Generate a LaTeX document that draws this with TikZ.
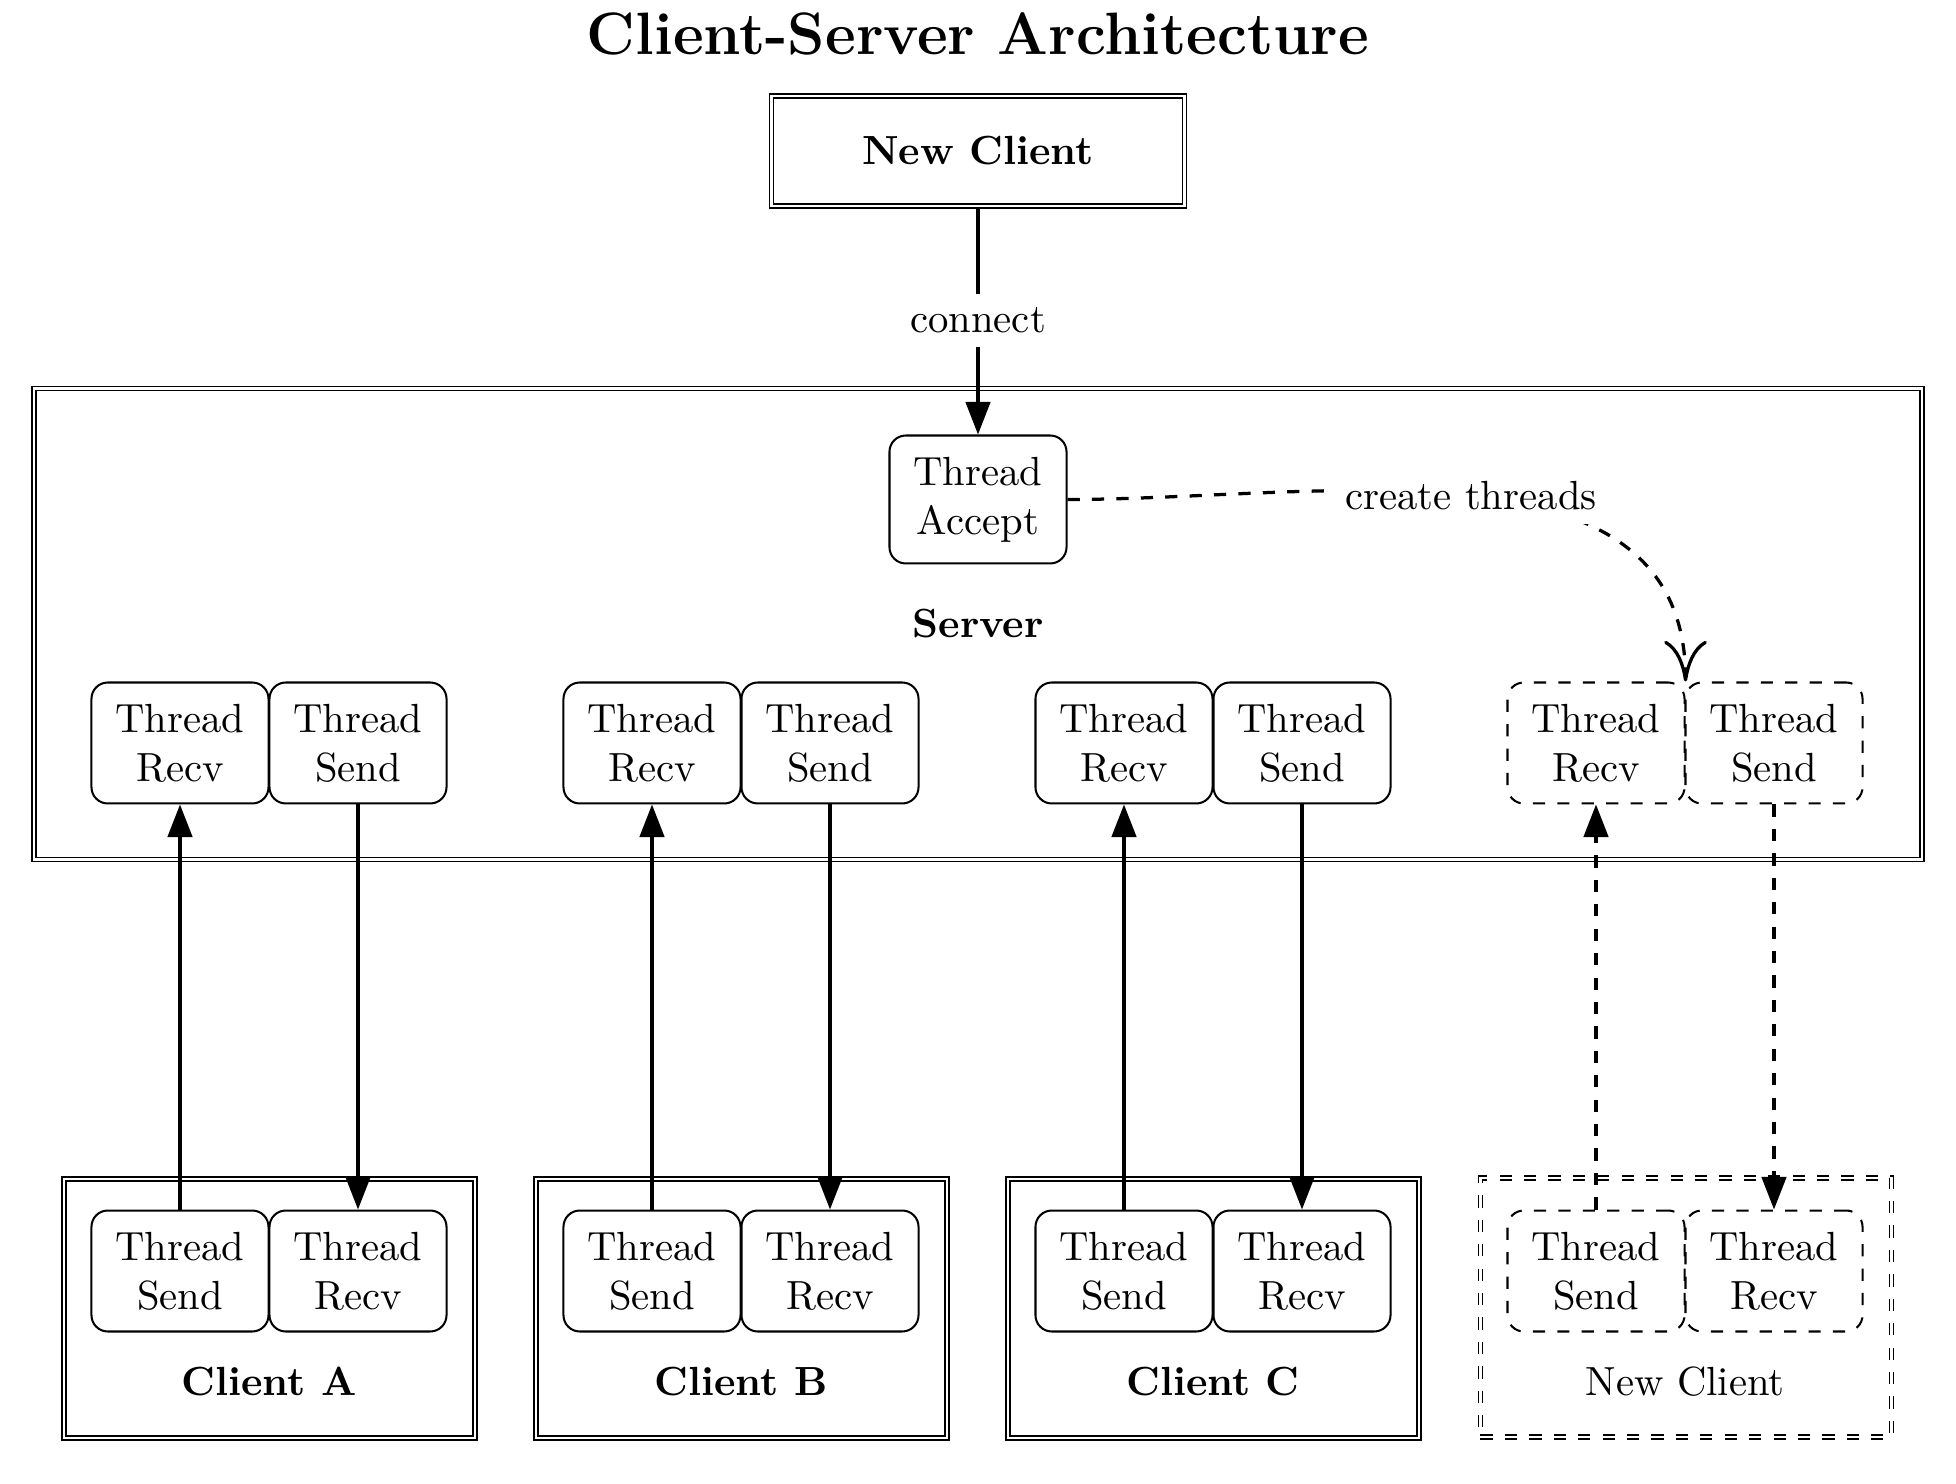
\documentclass[tikz,border=0pt]{standalone}
\usetikzlibrary{arrows.meta}
\begin{document}
\begin{tikzpicture}[x=0.2457pt,y=-0.2457pt,
  thr/.style={draw, rounded corners=4pt, align=center, minimum width=43.5pt, inner sep=5.28pt, line width=0.5pt},
  thrd/.style={thr, dashed},
  cbox/.style={draw, double, minimum width=101pt, minimum height=63.7pt, inner sep=0pt},
  arr/.style={thick, -{Triangle[length=8pt,width=6pt]}},
  darr/.style={arr, dashed},
]
\useasboundingbox (0,0) rectangle (1956,1484);
\node[font=\fontsize{14.7pt}{18pt}\selectfont\bfseries] (title) at (978,34) {Client-Server Architecture};
\node[draw, double, minimum width=101.5pt, minimum height=27pt, font=\bfseries] (nc) at (978,151) {New Client};
\node[draw, double, minimum width=463.9pt, minimum height=115.7pt, font=\bfseries] (server) at (978,624) {Server};
\node[thr] (acc) at (978,499.5) {Thread\\Accept};

% server threads
\node[thr]  (sr1) at (180,743)  {Thread\\Recv};
\node[thr]  (ss1) at (358,743)  {Thread\\Send};
\node[thr]  (sr2) at (652,743)  {Thread\\Recv};
\node[thr]  (ss2) at (830,743)  {Thread\\Send};
\node[thr]  (sr3) at (1124,743) {Thread\\Recv};
\node[thr]  (ss3) at (1302,743) {Thread\\Send};
\node[thrd] (sr4) at (1596,743) {Thread\\Recv};
\node[thrd] (ss4) at (1774,743) {Thread\\Send};

% client boxes
\node[cbox] (c1) at (269.5,1308.5) {};
\node[cbox] (c2) at (741.5,1308.5) {};
\node[cbox] (c3) at (1213.5,1308.5) {};
\node[cbox, dashed] (c4) at (1686,1307.5) {};
\node[font=\bfseries] (l1) at (269,1382) {Client A};
\node[font=\bfseries] (l2) at (741,1382) {Client B};
\node[font=\bfseries] (l3) at (1213,1382) {Client C};
\node (l4) at (1685,1382) {New Client};

% client threads
\node[thr]  (cs1) at (180,1271)  {Thread\\Send};
\node[thr]  (cr1) at (358,1271)  {Thread\\Recv};
\node[thr]  (cs2) at (652,1271)  {Thread\\Send};
\node[thr]  (cr2) at (830,1271)  {Thread\\Recv};
\node[thr]  (cs3) at (1124,1271) {Thread\\Send};
\node[thr]  (cr3) at (1302,1271) {Thread\\Recv};
\node[thrd] (cs4) at (1596,1271) {Thread\\Send};
\node[thrd] (cr4) at (1774,1271) {Thread\\Recv};

% connectors
\draw[arr] (nc) -- node[fill=white] {connect} (acc);
\draw[thick, dashed, -{To[length=10pt,width=10.5pt]}] (acc.east) to[out=0,in=90] node[fill=white] {create threads} (sr4.north east);

\draw[arr] (cs1) -- (sr1);
\draw[arr] (ss1) -- (cr1);
\draw[arr] (cs2) -- (sr2);
\draw[arr] (ss2) -- (cr2);
\draw[arr] (cs3) -- (sr3);
\draw[arr] (ss3) -- (cr3);
\draw[darr] (cs4) -- (sr4);
\draw[darr] (ss4) -- (cr4);
\end{tikzpicture}
\end{document}
